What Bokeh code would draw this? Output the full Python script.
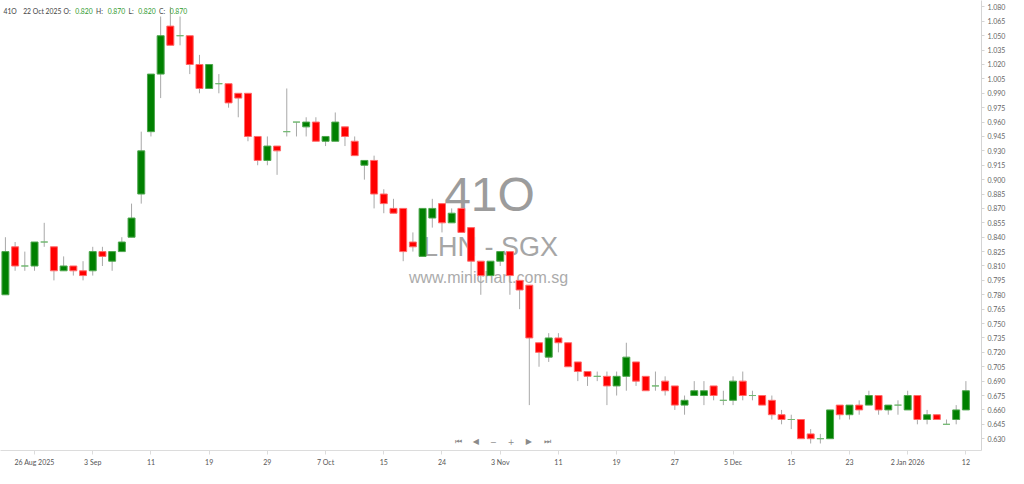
from bokeh.plotting import figure
from bokeh.models import ColumnDataSource, FixedTicker, NumeralTickFormatter, Range1d, Label
from bokeh.embed import file_html
from bokeh.resources import INLINE
try:
    from bokeh.models import HTMLLabel
except ImportError:
    HTMLLabel = None

# ---- data ----
opens = [0.780, 0.830, 0.810, 0.810, 0.835, 0.830, 0.805, 0.810, 0.805, 0.805,
         0.825, 0.815, 0.825, 0.840, 0.885, 0.950, 1.010, 1.060, 1.050, 1.050,
         1.020, 0.995, 1.000, 1.000, 0.990, 0.990, 0.945, 0.920, 0.935, 0.950,
         0.960, 0.955, 0.960, 0.940, 0.940, 0.955, 0.940, 0.915, 0.920, 0.885,
         0.870, 0.870, 0.835, 0.820, 0.860, 0.875, 0.855, 0.870, 0.850, 0.815,
         0.800, 0.815, 0.825, 0.795, 0.790, 0.730, 0.715, 0.735, 0.730, 0.710,
         0.700, 0.695, 0.695, 0.685, 0.695, 0.710, 0.695, 0.685, 0.690, 0.685,
         0.665, 0.675, 0.675, 0.685, 0.670, 0.670, 0.690, 0.675, 0.675, 0.670,
         0.655, 0.650, 0.650, 0.635, 0.630, 0.630, 0.665, 0.655, 0.665, 0.665,
         0.675, 0.660, 0.665, 0.660, 0.675, 0.650, 0.655, 0.645, 0.650, 0.660]
highs = [0.840, 0.835, 0.825, 0.835, 0.855, 0.830, 0.820, 0.810, 0.815, 0.830,
         0.830, 0.825, 0.840, 0.875, 0.950, 1.010, 1.070, 1.080, 1.070, 1.050,
         1.030, 1.020, 1.010, 1.000, 0.990, 0.990, 0.945, 0.945, 0.935, 0.995,
         0.960, 0.965, 0.965, 0.945, 0.970, 0.955, 0.945, 0.920, 0.925, 0.890,
         0.880, 0.870, 0.845, 0.870, 0.880, 0.875, 0.870, 0.870, 0.850, 0.815,
         0.815, 0.825, 0.825, 0.795, 0.790, 0.730, 0.740, 0.740, 0.730, 0.710,
         0.700, 0.700, 0.700, 0.700, 0.730, 0.710, 0.695, 0.700, 0.695, 0.685,
         0.675, 0.690, 0.690, 0.685, 0.680, 0.695, 0.700, 0.680, 0.675, 0.675,
         0.660, 0.655, 0.650, 0.640, 0.635, 0.660, 0.665, 0.665, 0.670, 0.680,
         0.675, 0.665, 0.670, 0.680, 0.675, 0.660, 0.655, 0.650, 0.665, 0.690]
lows = [0.780, 0.805, 0.805, 0.805, 0.830, 0.795, 0.805, 0.800, 0.795, 0.800,
        0.810, 0.805, 0.825, 0.840, 0.875, 0.945, 0.985, 1.040, 1.040, 1.010,
        0.990, 0.995, 0.990, 0.975, 0.965, 0.940, 0.915, 0.915, 0.905, 0.945,
        0.945, 0.945, 0.940, 0.935, 0.940, 0.935, 0.925, 0.900, 0.870, 0.865,
        0.865, 0.815, 0.825, 0.820, 0.850, 0.845, 0.855, 0.845, 0.800, 0.780,
        0.800, 0.810, 0.780, 0.765, 0.665, 0.705, 0.710, 0.720, 0.705, 0.690,
        0.685, 0.690, 0.665, 0.675, 0.680, 0.685, 0.680, 0.680, 0.675, 0.660,
        0.655, 0.675, 0.665, 0.670, 0.665, 0.665, 0.670, 0.670, 0.665, 0.650,
        0.645, 0.640, 0.630, 0.625, 0.625, 0.630, 0.650, 0.650, 0.655, 0.665,
        0.655, 0.655, 0.655, 0.660, 0.645, 0.645, 0.650, 0.645, 0.645, 0.660]
closes = [0.825, 0.810, 0.810, 0.835, 0.835, 0.805, 0.810, 0.805, 0.800, 0.825,
          0.820, 0.825, 0.835, 0.860, 0.930, 1.010, 1.050, 1.040, 1.050, 1.020,
          0.995, 1.020, 1.000, 0.980, 0.985, 0.945, 0.920, 0.935, 0.930, 0.950,
          0.960, 0.960, 0.940, 0.945, 0.960, 0.945, 0.925, 0.920, 0.885, 0.875,
          0.865, 0.825, 0.830, 0.870, 0.870, 0.855, 0.865, 0.845, 0.815, 0.800,
          0.815, 0.825, 0.800, 0.785, 0.735, 0.720, 0.735, 0.730, 0.705, 0.700,
          0.695, 0.695, 0.685, 0.695, 0.715, 0.690, 0.680, 0.685, 0.680, 0.665,
          0.670, 0.680, 0.680, 0.675, 0.670, 0.690, 0.675, 0.675, 0.665, 0.655,
          0.650, 0.650, 0.630, 0.630, 0.630, 0.660, 0.655, 0.665, 0.660, 0.675,
          0.660, 0.665, 0.665, 0.675, 0.650, 0.655, 0.650, 0.645, 0.660, 0.680]

date_tick_index = [3, 9, 15, 21, 27, 33, 39, 45, 51, 57, 63, 69, 75, 81, 87, 93, 99]
date_tick_labels = ["26 Aug 2025", "3 Sep", "11", "19", "29", "7 Oct", "15", "24", "3 Nov",
                    "11", "19", "27", "5 Dec", "15", "23", "2 Jan 2026", "12"]
price_ticks = [0.630, 0.645, 0.660, 0.675, 0.690, 0.705, 0.720, 0.735, 0.750, 0.765,
               0.780, 0.795, 0.810, 0.825, 0.840, 0.855, 0.870, 0.885, 0.900, 0.915,
               0.930, 0.945, 0.960, 0.975, 0.990, 1.005, 1.020, 1.035, 1.050, 1.065, 1.080]

symbol = "41O"
title_name = "LHN - SGX"
site = "www.minichart.com.sg"
hover_date = "22 Oct 2025"
hover_index = 43
last_price = closes[-1]

# ---- styling ----
GREEN = "#008000"
GREEN_EDGE = "#4ea64e"
RED = "#ff0000"
RED_EDGE = "#ff6a6a"
DOJI = "#72b872"
WICK = "#a8a8a8"
FONT = "Lato"

n = len(opens)
xs = list(range(n))
fill, edge = [], []
for o, c in zip(opens, closes):
    if c > o:
        fill.append(GREEN); edge.append(GREEN_EDGE)
    elif c < o:
        fill.append(RED); edge.append(RED_EDGE)
    else:
        fill.append(GREEN); edge.append(DOJI)

src = ColumnDataSource(dict(
    x=xs, high=highs, low=lows,
    top=[max(o, c) for o, c in zip(opens, closes)],
    bottom=[min(o, c) for o, c in zip(opens, closes)],
    fill=fill, edge=edge,
))

# reference pixel geometry -> data coordinates (for annotation placement)
PX0, PXSTEP = 5.0, 9.86
Y_TOP = 1.0867
def px2x(px):
    return (px - PX0) / PXSTEP
def py2y(py):
    return Y_TOP - py / 1000.0

p = figure(width=1008, height=468,
           x_range=Range1d(px2x(0), px2x(997)),
           y_range=Range1d(py2y(469), Y_TOP),
           y_axis_location="right",
           output_backend="svg", toolbar_location=None,
           min_border_left=0, min_border_top=0, min_border_bottom=0, min_border_right=0)
p.grid.visible = False
p.outline_line_color = None
p.background_fill_color = "white"
p.border_fill_color = "white"

# watermark (behind candles)
wm = ColumnDataSource(dict(
    x=[px2x(497), px2x(498), px2x(496)],
    y=[py2y(202), py2y(257), py2y(289)],
    t=[symbol, title_name, site],
    size=["48px", "27px", "16px"],
    color=["#9c9c9c", "#a6a6a6", "#ababab"],
))
p.text(x="x", y="y", text="t", text_font_size="size", text_color="color",
       text_align="center", text_baseline="middle", text_font={"value": "Liberation Sans"},
       source=wm)

# wicks and bodies
p.segment(x0="x", x1="x", y0="low", y1="high", line_color=WICK, line_width=1, source=src)
p.vbar(x="x", width=0.72, top="top", bottom="bottom", fill_color="fill",
       line_color="edge", line_width=1, source=src)

# axes
ya = p.yaxis[0]
ya.ticker = FixedTicker(ticks=price_ticks)
ya.formatter = NumeralTickFormatter(format="0.000")
ya.major_label_text_font = FONT
ya.major_label_text_font_size = "7px"
ya.major_label_text_color = "#666666"
ya.axis_line_color = "#d4d4d4"
ya.major_tick_line_color = "#d4d4d4"
ya.major_tick_in = 0
ya.major_tick_out = 3
ya.minor_tick_line_color = None
ya.major_label_standoff = 3

xa = p.xaxis[0]
xa.ticker = FixedTicker(ticks=date_tick_index)
xa.major_label_overrides = {i: s for i, s in zip(date_tick_index, date_tick_labels)}
xa.major_label_text_font = FONT
xa.major_label_text_font_size = "7px"
xa.major_label_text_color = "#555555"
xa.axis_line_color = "#dcdcdc"
xa.major_tick_line_color = "#dcdcdc"
xa.major_tick_in = 0
xa.major_tick_out = 4
xa.minor_tick_line_color = None
xa.major_label_standoff = 3

# header (OHLC of hovered candle)
hi = hover_index
header = [
    (3, symbol, "#444444"),
    (23, hover_date, "#444444"),
    (64, "O:", "#444444"), (76, f"{opens[hi]:.3f}", "#2e9a2e"),
    (97, "H:", "#444444"), (109, f"{highs[hi]:.3f}", "#2e9a2e"),
    (130, "L:", "#444444"), (140, f"{lows[hi]:.3f}", "#2e9a2e"),
    (161, "C:", "#444444"), (172, f"{closes[hi]:.3f}", "#2e9a2e"),
]
for px, txt, col in header:
    p.add_layout(Label(x=px2x(px), y=py2y(10.5), text=txt, text_color=col,
                       text_font=FONT, text_font_size="6.8px", text_baseline="middle",
                       text_align="left"))

# navigation icons
nav = [(465, "⏮"), (483, "◀"), (501, "−"), (519, "+"), (537, "▶"), (556, "⏭")]
for px, txt in nav:
    p.add_layout(Label(x=px2x(px), y=py2y(460), text=txt, text_color="#8a8a8a",
                       text_font="DejaVu Sans", text_font_size="8px",
                       text_align="center", text_baseline="middle"))

# last price tag over the price axis (DOM label, so it is not clipped to the frame)
if HTMLLabel is not None:
    p.add_layout(HTMLLabel(x=px2x(997), y=last_price, x_offset=1, text=f"{last_price:.3f}",
                           text_color="white",
                           text_font=FONT, text_font_size="7px", text_baseline="middle",
                           text_align="left", background_fill_color="#1f8a1f"))

html = file_html(p, INLINE)
open("out.html", "w").write(html)
